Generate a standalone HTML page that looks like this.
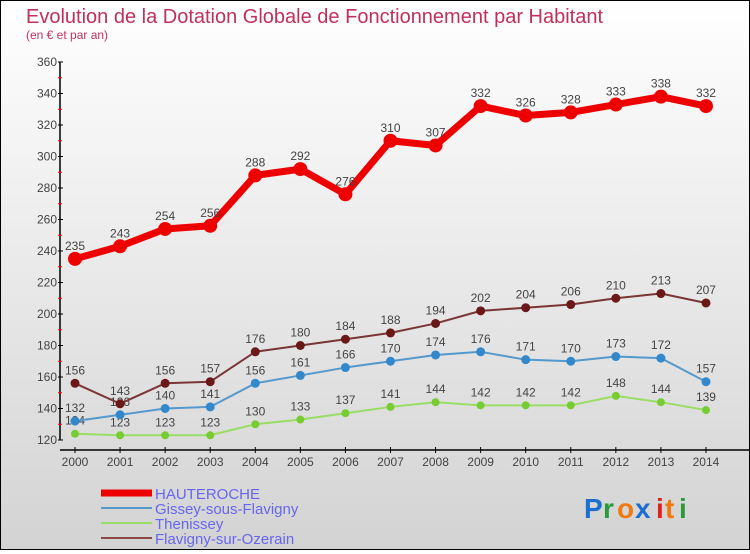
<!DOCTYPE html>
<html><head><meta charset="utf-8"><style>
html,body{margin:0;padding:0}
body{width:750px;height:550px;overflow:hidden;font-family:"Liberation Sans",sans-serif}
#wrap{position:absolute;left:0;top:0;width:748px;height:548px;border:1px solid #000;background:linear-gradient(#ffffff,#d3d3d3)}
</style></head><body>
<div id="wrap">
<svg id="svg" width="748" height="548" xmlns="http://www.w3.org/2000/svg">
<text x="25" y="22" font-size="20" fill="#c0305a" font-family="Liberation Sans, sans-serif">Evolution de la Dotation Globale de Fonctionnement par Habitant</text>
<text x="25" y="38" font-size="12" fill="#c0305a">(en € et par an)</text>
<g id="axes"></g><g id="series"></g><g id="legend"></g>
<g font-size="28" font-weight="bold">
<text x="583" y="517" fill="#1a6fd0">P</text><text x="602" y="517" fill="#2a9a3a">r</text><text x="616" y="517" fill="#f07a10">o</text><text x="634" y="517" fill="#1a6fd0">x</text><text x="655" y="517" fill="#e02020">i</text><text x="664" y="517" fill="#f07a10">t</text><text x="678" y="517" fill="#2a9a3a">i</text>
</g>
</svg></div>
<script>
const years=[2000,2001,2002,2003,2004,2005,2006,2007,2008,2009,2010,2011,2012,2013,2014];
const hauteroche=[235,243,254,256,288,292,276,310,307,332,326,328,333,338,332];
const gissey=[132,136,140,141,156,161,166,170,174,176,171,170,173,172,157];
const thenissey=[124,123,123,123,130,133,137,141,144,142,142,142,148,144,139];
const flavigny=[156,143,156,157,176,180,184,188,194,202,204,206,210,213,207];
const yTicks=[120,140,160,180,200,220,240,260,280,300,320,340,360];
const NS="http://www.w3.org/2000/svg";
const xs=i=>74+i*45.07;
const ys=v=>439-(v-120)*(378/240);
function mk(tag,attrs,parent){const e=document.createElementNS(NS,tag);for(const k in attrs)e.setAttribute(k,attrs[k]);parent.appendChild(e);return e;}
const axes=document.getElementById('axes');
let a=mk('line',{x1:59,y1:ys(360),x2:59,y2:ys(120),stroke:'#000','stroke-width':1.5},axes);

a=mk('line',{x1:59,y1:449,x2:748,y2:449,stroke:'#000','stroke-width':1.5},axes);

yTicks.forEach((t,i)=>{
 mk('line',{x1:57,y1:ys(t),x2:62,y2:ys(t),stroke:'#000'},axes);
 if(i<yTicks.length-1)mk('line',{x1:57,y1:ys(t+10),x2:61,y2:ys(t+10),stroke:'#f00'},axes);
 const tx=mk('text',{x:56,y:ys(t)+4,'text-anchor':'end','font-size':12,fill:'#444'},axes);tx.textContent=t;
 
});
years.forEach((y,i)=>{
 mk('line',{x1:xs(i),y1:446,x2:xs(i),y2:452,stroke:'#000'},axes);
 const tx=mk('text',{x:xs(i),y:465,'text-anchor':'middle','font-size':12,fill:'#444'},axes);tx.textContent=y;
 
});
const ser=document.getElementById('series');
const defs=[
 {d:thenissey,c:'#99dd66',f:'#77cc33',w:2,r:4,name:'thenissey'},
 {d:gissey,c:'#5599cc',f:'#3388cc',w:2,r:4.5,name:'gissey'},
 {d:flavigny,c:'#7a3535',f:'#6a1818',w:2,r:4.5,name:'flavigny'},
 {d:hauteroche,c:'#ee0000',f:'#ee0000',w:7,r:7,name:'hauteroche'}];
defs.forEach(s=>{
 const g=mk('g',{},ser);
 
 const pts=s.d.map((v,i)=>xs(i)+','+ys(v)).join(' ');
 mk('polyline',{points:pts,fill:'none',stroke:s.c,'stroke-width':s.w,'stroke-linejoin':'round'},g);
 s.d.forEach((v,i)=>{
  const c=mk('circle',{cx:xs(i),cy:ys(v),r:s.r,fill:s.f},g);
  
  const t=mk('text',{x:xs(i),y:ys(v)-9,'text-anchor':'middle','font-size':12,fill:'#444'},g);t.textContent=v;
  
 });
});
const leg=document.getElementById('legend');
const items=[['HAUTEROCHE','#ee0000',7],['Gissey-sous-Flavigny','#5599cc',2],['Thenissey','#99dd66',2],['Flavigny-sur-Ozerain','#8a4848',2]];
items.forEach((it,i)=>{
 const y=492+i*15;
 const g=mk('g',{},leg);
 
 mk('line',{x1:100,y1:y,x2:151,y2:y,stroke:it[1],'stroke-width':it[2]},g);
 const t=mk('text',{x:154,y:y+6,'font-size':15,fill:'#6666ee'},g);t.textContent=it[0];
});
</script>
</body></html>
